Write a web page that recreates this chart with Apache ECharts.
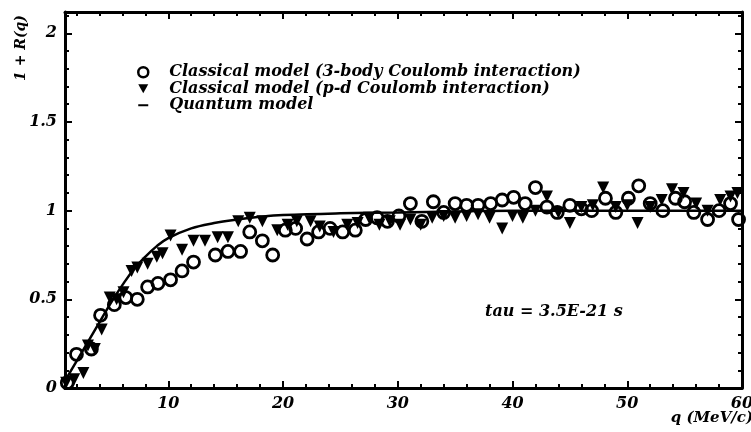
<!DOCTYPE html>
<html>
<head>
<meta charset="utf-8">
<script src="https://cdn.jsdelivr.net/npm/echarts@6/dist/echarts.min.js"></script>
<style>
  html, body { margin: 0; padding: 0; background: #fff; }
  #chart { width: 751px; height: 432px; }
</style>
</head>
<body>
<div id="chart"></div>
<script>
// Correlation function 1 + R(q) versus relative momentum q (MeV/c)

// Classical model, 3-body Coulomb interaction (open circles)
const classical3BodyQ = [1.2, 2.0, 3.3, 4.1, 5.3, 6.3, 7.3, 8.2, 9.1, 10.2, 11.2, 12.2, 14.1, 15.2, 16.3, 17.1, 18.2, 19.1, 20.2, 21.1, 22.1, 23.1, 24.1, 25.2, 26.3, 27.2, 28.2, 29.1, 30.1, 31.1, 32.1, 33.1, 34.0, 35.0, 36.0, 37.0, 38.1, 39.1, 40.1, 41.1, 42.0, 43.0, 43.9, 45.0, 46.0, 46.9, 48.1, 49.0, 50.1, 51.0, 52.0, 53.1, 54.2, 55.0, 55.8, 57.0, 58.0, 59.0, 59.7];
const classical3BodyR = [0.03, 0.19, 0.22, 0.41, 0.47, 0.51, 0.50, 0.57, 0.59, 0.61, 0.66, 0.71, 0.75, 0.77, 0.77, 0.88, 0.83, 0.75, 0.89, 0.90, 0.84, 0.88, 0.90, 0.88, 0.89, 0.95, 0.96, 0.94, 0.97, 1.04, 0.94, 1.05, 0.99, 1.04, 1.03, 1.03, 1.04, 1.06, 1.075, 1.04, 1.13, 1.02, 0.99, 1.03, 1.01, 1.00, 1.07, 0.99, 1.07, 1.14, 1.04, 1.00, 1.07, 1.05, 0.99, 0.95, 1.00, 1.04, 0.95];

// Classical model, p-d Coulomb interaction (filled down triangles)
const classicalPdQ = [1.1, 1.8, 2.6, 3.0, 3.6, 4.2, 4.9, 5.5, 6.1, 6.8, 7.3, 8.2, 9.0, 9.5, 10.2, 11.2, 12.2, 13.2, 14.3, 15.2, 16.1, 17.1, 18.2, 19.5, 20.4, 21.2, 22.4, 23.2, 24.4, 25.6, 26.5, 27.5, 28.4, 29.3, 30.2, 31.1, 32.0, 33.0, 34.0, 35.0, 36.0, 37.0, 38.0, 39.1, 40.0, 40.9, 42.0, 43.0, 44.0, 45.0, 46.0, 47.0, 47.9, 49.0, 50.0, 50.9, 52.0, 53.0, 53.9, 54.9, 56.0, 57.0, 58.1, 59.0, 59.6];
const classicalPdR = [0.03, 0.05, 0.085, 0.24, 0.22, 0.33, 0.51, 0.50, 0.54, 0.66, 0.68, 0.70, 0.74, 0.76, 0.86, 0.78, 0.83, 0.83, 0.85, 0.85, 0.94, 0.96, 0.94, 0.89, 0.92, 0.94, 0.94, 0.91, 0.88, 0.92, 0.93, 0.96, 0.92, 0.94, 0.92, 0.95, 0.92, 0.96, 0.97, 0.96, 0.97, 0.98, 0.96, 0.90, 0.97, 0.96, 1.00, 1.08, 0.99, 0.93, 1.02, 1.03, 1.13, 1.02, 1.03, 0.93, 1.02, 1.06, 1.12, 1.10, 1.04, 1.00, 1.06, 1.08, 1.10];

// Quantum model (solid curve)
const quantumQ = [1, 2, 3, 4, 5, 6, 7, 8, 9, 10, 12, 14, 16, 18, 20, 25, 30, 35, 40, 45, 50, 55, 60];
const quantumR = [0.04, 0.15, 0.26, 0.37, 0.48, 0.58, 0.67, 0.74, 0.80, 0.845, 0.90, 0.93, 0.95, 0.965, 0.975, 0.985, 0.99, 0.995, 1.0, 1.0, 1.0, 1.0, 1.0];

const xTicks = [10, 20, 30, 40, 50, 60];
const yTicks = [0, 0.5, 1, 1.5, 2];

const seriesNames = [
  'Classical model (3-body Coulomb interaction)',
  'Classical model (p-d Coulomb interaction)',
  'Quantum model'
];
const xTitle = 'q (MeV/c)';
const yTitle = '1 + R(q)';
const tauLabel = 'tau = 3.5E-21 s';

const FONT = '"DejaVu Serif", "Liberation Serif", serif';
const zip = (xs, ys) => xs.map((x, i) => [x, ys[i]]);
const txt = (size) => ({ fontFamily: FONT, fontStyle: 'italic', fontWeight: 'bold', fontSize: size, fill: '#000' });

const chart = echarts.init(document.getElementById('chart'), null, { renderer: 'canvas' });

const baseX = {
  type: 'value', min: 1, max: 60, splitNumber: 6,
  axisLine: { show: true, onZero: false, lineStyle: { color: '#000', width: 3 } },
  axisTick: { show: true, inside: true, length: 7, lineStyle: { color: '#000', width: 2 } },
  minorTick: { show: true, splitNumber: 5, length: 4, lineStyle: { color: '#000', width: 2 } },
  splitLine: { show: false }
};
const baseY = {
  type: 'value', min: 0, max: 2.12, interval: 0.5,
  axisLine: { show: true, onZero: false, lineStyle: { color: '#000', width: 3 } },
  axisTick: { show: true, inside: true, length: 7, lineStyle: { color: '#000', width: 2 } },
  minorTick: { show: true, splitNumber: 5, length: 4, lineStyle: { color: '#000', width: 2 } },
  splitLine: { show: false }
};

chart.setOption({
  animation: false,
  backgroundColor: '#fff',
  grid: { left: 65, right: 9, top: 12, bottom: 44, containLabel: false, outerBoundsMode: 'none' },
  xAxis: [
    Object.assign({}, baseX, {
      position: 'bottom',
      axisLabel: {
        show: true, margin: 8, color: '#000', fontFamily: FONT, fontStyle: 'italic', fontWeight: 'bold', fontSize: 16,
        formatter: v => (xTicks.indexOf(v) >= 0 ? String(v) : '')
      }
    }),
    Object.assign({}, baseX, { position: 'top', axisLabel: { show: false } })
  ],
  yAxis: [
    Object.assign({}, baseY, {
      position: 'left',
      axisLabel: {
        show: true, margin: 8, color: '#000', fontFamily: FONT, fontStyle: 'italic', fontWeight: 'bold', fontSize: 16,
        formatter: v => (yTicks.indexOf(v) >= 0 ? String(v) : '')
      }
    }),
    Object.assign({}, baseY, { position: 'right', axisLabel: { show: false } })
  ],
  legend: {
    orient: 'vertical', left: 132, top: 59,
    itemWidth: 10, itemHeight: 10, itemGap: 0,
    textStyle: { fontFamily: FONT, fontStyle: 'italic', fontWeight: 'bold', fontSize: 16, lineHeight: 16.5, color: '#000', padding: [0, 0, 0, 16] },
    data: [
      { name: seriesNames[0], icon: 'circle', itemStyle: { color: '#fff', borderColor: '#000', borderWidth: 2.5 } },
      { name: seriesNames[1], icon: 'path://M0,0L10,0L5,9Z', itemStyle: { color: '#000', opacity: 1 } },
      { name: seriesNames[2], icon: 'path://M0,0H10V2H0Z', itemStyle: { color: '#000' } }
    ]
  },
  graphic: [
    { type: 'text', left: 485, top: 304, style: Object.assign({ text: tauLabel }, txt(16)) },
    { type: 'text', x: 21, y: 48, rotation: Math.PI / 2,
      style: Object.assign({ text: yTitle, align: 'center', verticalAlign: 'middle' }, txt(14)) },
    { type: 'text', x: 753, y: 418,
      style: Object.assign({ text: xTitle, align: 'right', verticalAlign: 'middle' }, txt(15)) }
  ],
  series: [
    {
      name: seriesNames[2], type: 'line', xAxisIndex: 0, yAxisIndex: 0,
      data: zip(quantumQ, quantumR), showSymbol: false, smooth: 0.4,
      lineStyle: { color: '#000', width: 2.5 }, itemStyle: { color: '#000' }, z: 2
    },
    {
      name: seriesNames[1], type: 'scatter', xAxisIndex: 0, yAxisIndex: 0,
      data: zip(classicalPdQ, classicalPdR),
      symbol: 'triangle', symbolRotate: 180, symbolSize: 12,
      itemStyle: { color: '#000', opacity: 1 }, z: 3
    },
    {
      name: seriesNames[0], type: 'scatter', xAxisIndex: 0, yAxisIndex: 0,
      data: zip(classical3BodyQ, classical3BodyR),
      symbol: 'circle', symbolSize: 12,
      itemStyle: { color: 'rgba(255,255,255,0)', borderColor: '#000', borderWidth: 2.8, opacity: 1 }, z: 4
    }
  ]
});
</script>
</body>
</html>
